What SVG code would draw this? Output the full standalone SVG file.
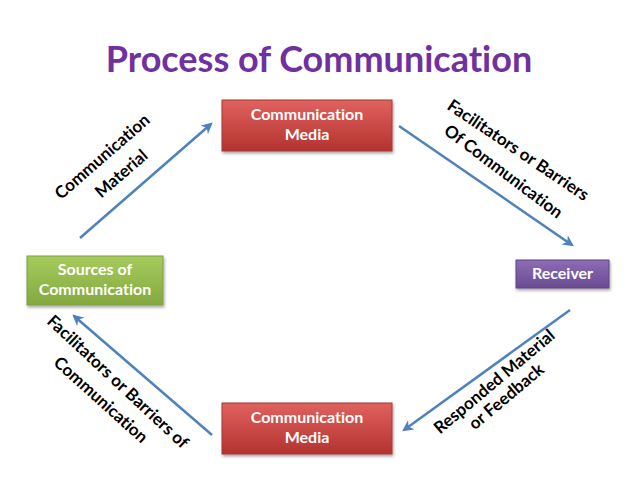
<svg xmlns="http://www.w3.org/2000/svg" width="638" height="479" viewBox="0 0 638 479">
<defs>
<style>
text{font-variant-ligatures:none;font-feature-settings:"liga" 0}
.title{font-family:Lato,"Open Sans","Liberation Sans",sans-serif;font-weight:bold;font-size:36px;fill:#7030A0}
.bt{font-family:Lato,"Open Sans","Liberation Sans",sans-serif;font-weight:bold;font-size:16px;fill:#FFFFFF;text-anchor:middle}
.lab{font-family:Lato,"Open Sans","Liberation Sans",sans-serif;font-weight:bold;font-size:17px;fill:#000000;text-anchor:middle}
.conn{stroke:#4F81BD;stroke-width:2.5;fill:none;marker-end:url(#ah)}
</style>
<linearGradient id="gr" x1="0" y1="0" x2="0" y2="1"><stop offset="0" stop-color="#E0625E"/><stop offset="1" stop-color="#B23330"/></linearGradient>
<linearGradient id="gg" x1="0" y1="0" x2="0" y2="1"><stop offset="0" stop-color="#A6CB5C"/><stop offset="1" stop-color="#83A83F"/></linearGradient>
<linearGradient id="gp" x1="0" y1="0" x2="0" y2="1"><stop offset="0" stop-color="#8C6CB4"/><stop offset="1" stop-color="#6A4C92"/></linearGradient>
<filter id="sh" x="-10%" y="-20%" width="130%" height="150%"><feDropShadow dx="1" dy="2" stdDeviation="1.5" flood-color="#000" flood-opacity="0.35"/></filter>
<marker id="ah" viewBox="0 0 10 10" refX="8" refY="5" markerWidth="4.5" markerHeight="4.5" orient="auto" markerUnits="strokeWidth"><path d="M0,0 L10,5 L0,10 L3,5 Z" fill="#4F81BD"/></marker>
</defs>
<rect width="638" height="479" fill="#FFFFFF"/>
<text class="title" x="319" y="72" text-anchor="middle">Process of Communication</text>

<g id="connectors">
<line class="conn" x1="80" y1="238" x2="211" y2="124"/>
<line class="conn" x1="399" y1="126" x2="572" y2="245"/>
<line class="conn" x1="570" y1="310" x2="404" y2="430"/>
<line class="conn" x1="212" y1="435" x2="74" y2="316"/>
</g>

<g id="node-media-top">
<rect x="222" y="100" width="170" height="51" fill="url(#gr)" stroke="#A33B38" stroke-width="1" filter="url(#sh)"/>
<text class="bt" x="307" y="120">Communication</text>
<text class="bt" x="307" y="140">Media</text>
</g>
<g id="node-sources">
<rect x="27" y="256" width="136" height="49" fill="url(#gg)" stroke="#7E9F45" stroke-width="1" filter="url(#sh)"/>
<text class="bt" x="95" y="275">Sources of</text>
<text class="bt" x="95" y="295">Communication</text>
</g>
<g id="node-receiver">
<rect x="516" y="260" width="93" height="28" fill="url(#gp)" stroke="#5E4585" stroke-width="1" filter="url(#sh)"/>
<text class="bt" x="562.5" y="279">Receiver</text>
</g>
<g id="node-media-bottom">
<rect x="222" y="403" width="170" height="51" fill="url(#gr)" stroke="#A33B38" stroke-width="1" filter="url(#sh)"/>
<text class="bt" x="307" y="423">Communication</text>
<text class="bt" x="307" y="443">Media</text>
</g>

<g id="labels">
<text class="lab" transform="translate(106,161) rotate(-41)">Communication</text>
<text class="lab" transform="translate(125,178) rotate(-41)">Material</text>
<text class="lab" transform="translate(515,155) rotate(34)">Facilitators or Barriers</text>
<text class="lab" transform="translate(500,176) rotate(37)">Of Communication</text>
<text class="lab" transform="translate(498,386) rotate(-40)">Responded Material</text>
<text class="lab" transform="translate(510,401) rotate(-40)">or Feedback</text>
<text class="lab" transform="translate(114,386) rotate(43)">Facilitators or Barriers of</text>
<text class="lab" transform="translate(97,404) rotate(42)">Communication</text>
</g>
</svg>
